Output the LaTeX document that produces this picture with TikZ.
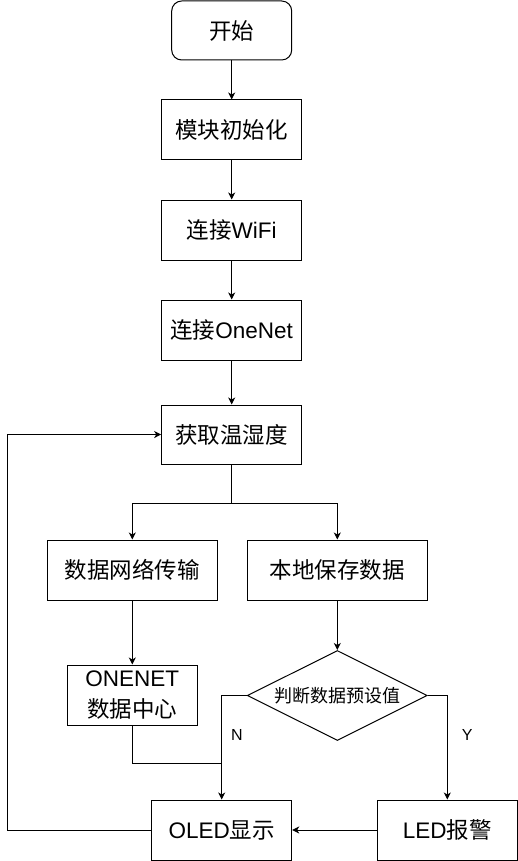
\documentclass[tikz,border=0pt]{standalone}
\usepackage{fontspec}
\setmainfont{Liberation Sans}
\newfontfamily\cjk{Noto Sans CJK SC}
\newcommand{\zh}[1]{{\cjk #1}}
\usetikzlibrary{shapes.geometric, arrows.meta}
\tikzset{
    >={Stealth[length=7pt, width=7pt, inset=2pt]}, % draw.io style tips
    every path/.style={line width=1pt},
}

\begin{document}
\begin{tikzpicture}[
    x=1pt, y=-1pt,
    box/.style={draw, rectangle, inner sep=0pt, minimum width=140pt, minimum height=60pt,
        font=\fontsize{22.5pt}{31pt}\selectfont, align=center},
    terminal/.style={box, rounded corners=10pt, minimum width=120pt, minimum height=59pt},
    decision/.style={draw, diamond, aspect=2, inner sep=0pt, minimum width=180pt, minimum height=90pt,
        font=\fontsize{18pt}{22pt}\selectfont},
    yn/.style={font=\fontsize{16pt}{19pt}\selectfont, inner sep=0pt}
]
    \useasboundingbox (0,0) rectangle (518,861);

    % --- Main column ---
    \node[terminal] (start)  at (231.7,30.5) {\zh{开始}};
    \node[box]      (init)   at (231.7,130)  {\zh{模块初始化}};
    \node[box]      (wifi)   at (231.7,230)  {\zh{连接}WiFi};
    \node[box]      (onenet) at (231.7,330)  {\zh{连接}OneNet};
    \node[box, minimum height=59pt] (get) at (231.7,434.5) {\zh{获取温湿度}};

    % --- Branches ---
    \node[box, minimum width=170pt] (net)  at (132.3,570) {\zh{数据网络传输}};
    \node[box, minimum width=180pt] (save) at (337.3,570) {\zh{本地保存数据}};
    \node[box, minimum width=130pt] (cloud) at (132.3,695) {ONENET\\\zh{数据中心}};
    \node[decision] (judge) at (337.3,695.5) {\zh{判断数据预设值}};

    % --- Outputs ---
    \node[box] (oled) at (221.7,830) {OLED\zh{显示}};
    \node[box] (led)  at (447.3,830) {LED\zh{报警}};

    \coordinate (split) at (231.7,503);
    \coordinate (merge) at (221.7,763);
    \coordinate (loopx) at (7.5,830);

    % --- Connectors ---
    \path[->]
        (start)  edge (init)
        (init)   edge (wifi)
        (wifi)   edge (onenet)
        (onenet) edge (get)
        (net)    edge (cloud)
        (save)   edge (judge)
        (led)    edge (oled);

    \draw (get) -- (split);
    \draw[->] (split) -| (net);
    \draw[->] (split) -| (save);
    \draw (cloud) |- (merge);
    \draw[->] (judge.west) -| node[yn, pos=0.69, right, xshift=9pt] {N} (oled);
    \draw[->] (judge.east) -| node[yn, pos=0.69, right, xshift=14pt] {Y} (led);
    % back to measuring
    \draw[->] (oled) -- (loopx) |- (get);

\end{tikzpicture}
\end{document}
